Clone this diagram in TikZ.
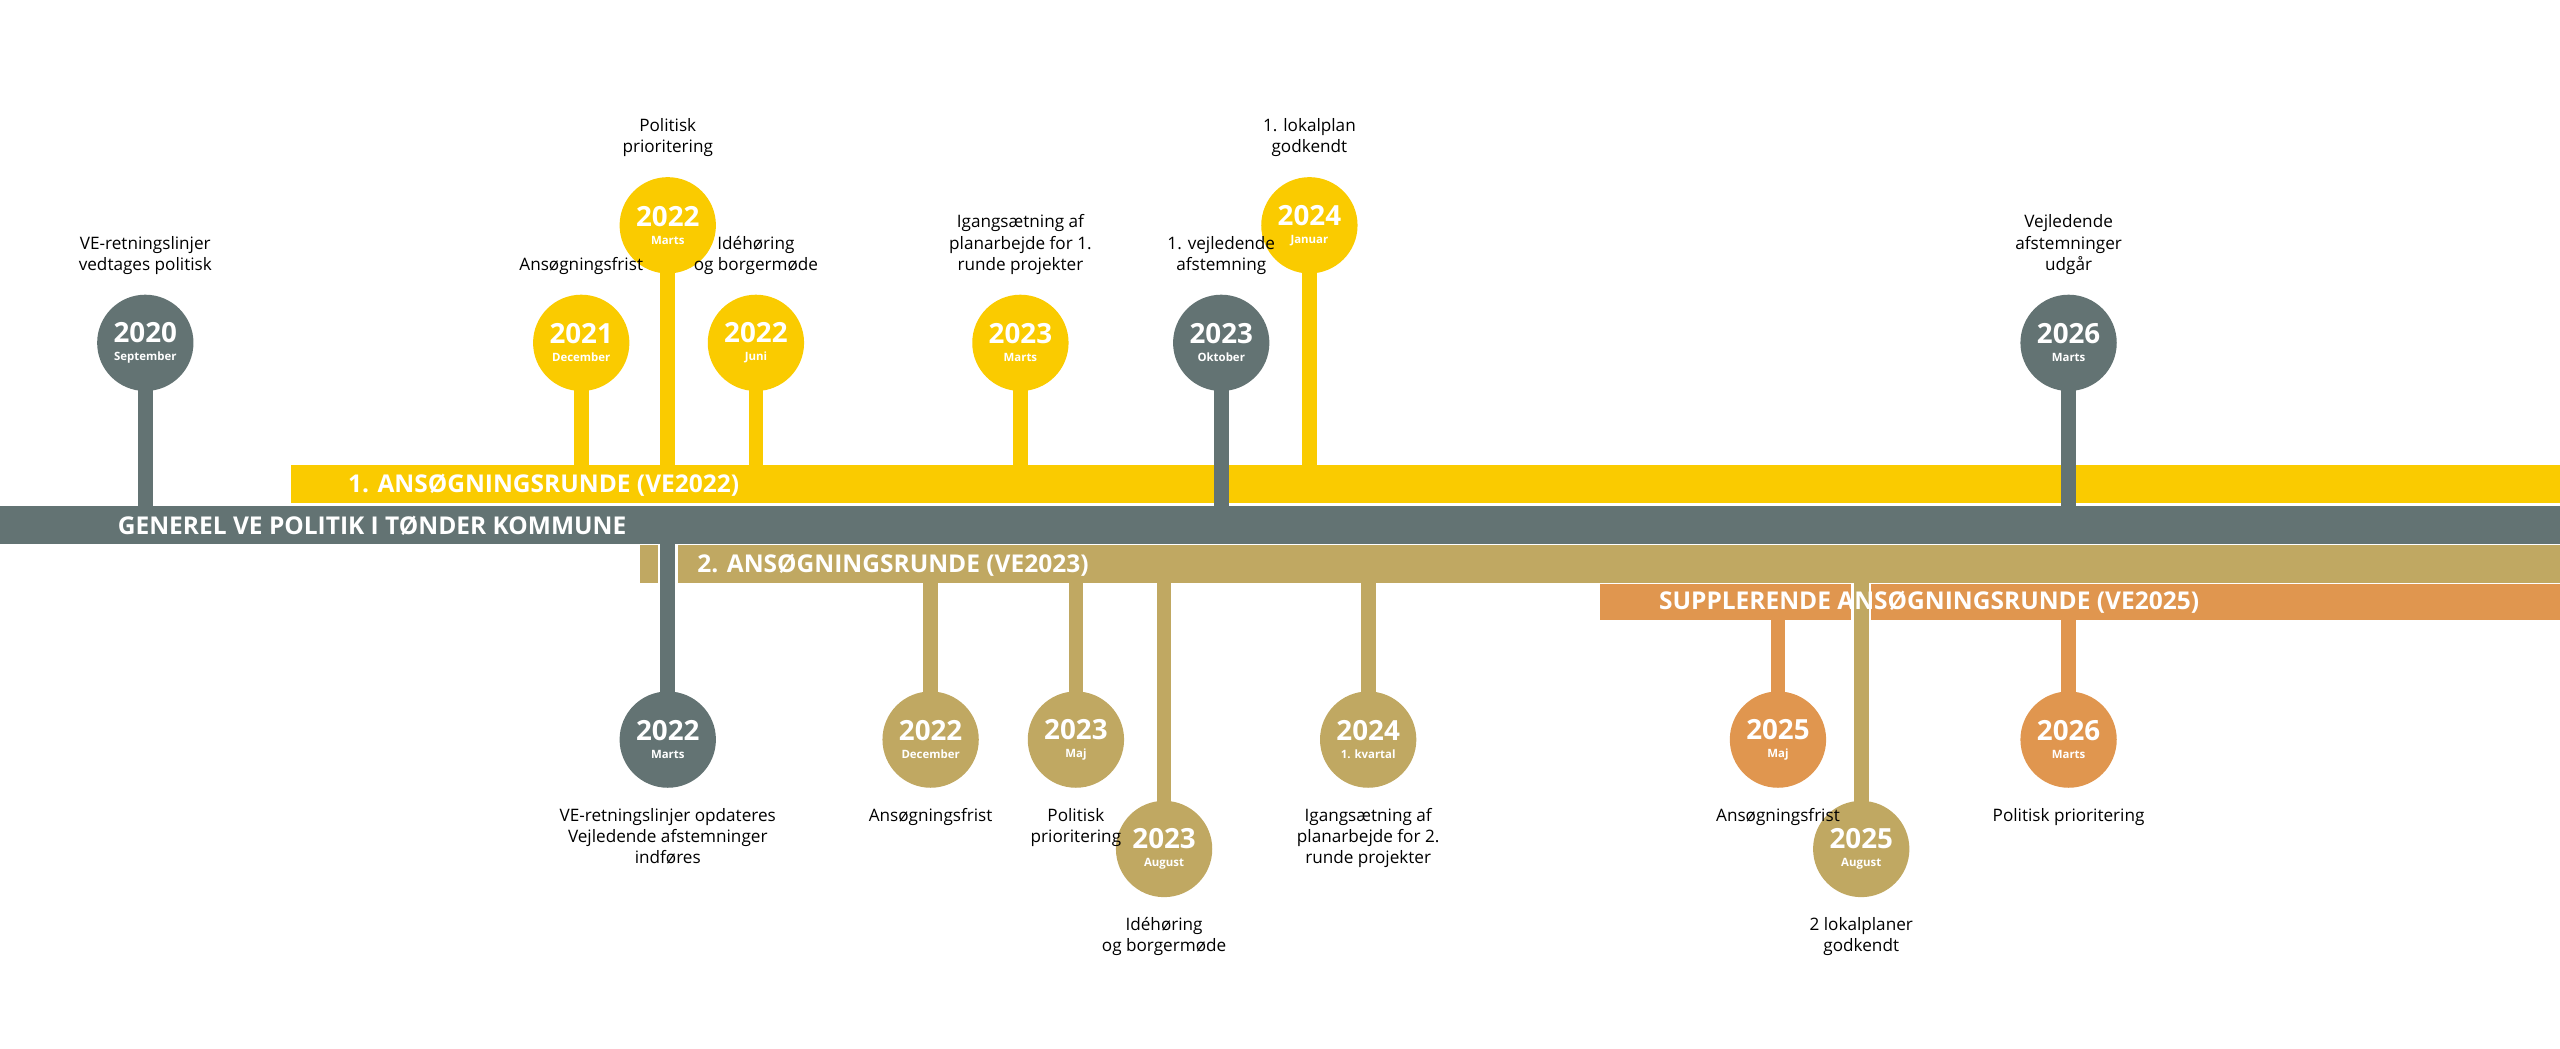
\documentclass[tikz,border=0pt]{standalone}
\usepackage{fontspec}
\setmainfont{Open Sans}
\usetikzlibrary{positioning}
\definecolor{gul}{HTML}{FACB00}
\definecolor{graa}{HTML}{637373}
\definecolor{sand}{HTML}{C0A862}
\definecolor{orange}{HTML}{E0964F}
\tikzset{
  bar/.style={fill=#1, draw=none},
  barlabel/.style={anchor=west, text=white, font=\bfseries\fontsize{15}{15}\selectfont, inner sep=0pt},
  dot/.style={circle, fill=#1, minimum size=59pt, inner sep=0pt, text=white, align=center},
  stem/.style={line width=9pt, draw=#1},
  gap/.style={line width=12pt, draw=white},
  txt/.style={align=center, font=\fontsize{10.5}{13}\selectfont, inner sep=0pt},
}
\newcommand{\yr}[2]{{\bfseries\fontsize{17}{17}\selectfont #1}\\[-1pt]{\bfseries\fontsize{7}{7}\selectfont #2}}
\begin{document}
\begin{tikzpicture}[x=1pt,y=-1pt]
\useasboundingbox (0,0) rectangle (1568,642);

% bars
\fill[bar=gul]  (178,285) rectangle (1568,308);
\fill[bar=graa] (0,310) rectangle (1568,333);
\fill[bar=sand] (392,334) rectangle (1568,357);
\fill[bar=orange] (980,358) rectangle (1568,380);
\coordinate (gultop) at (0,285);
\coordinate (graatop) at (0,310);
\coordinate (graabund) at (0,333);
\coordinate (sandbund) at (0,357);
\coordinate (orangebund) at (0,380);

% stems
\foreach \n/\x/\y/\c/\e in {a/89/210/graa/graatop, b/356/210/gul/gultop, c/409/138/gul/gultop,
  d/463/210/gul/gultop, e/625/210/gul/gultop, f/802/138/gul/gultop}
  \draw[stem=\c] (\x,\y) -- (\x,0 |- \e);
\foreach \n/\x/\y/\c/\e in {g/748/210/graa/graatop, h/1267/210/graa/graatop}{
  \draw[gap] (\x,\y) -- (\x,0 |- gultop);
  \draw[stem=\c] (\x,\y) -- (\x,0 |- \e);}
\draw[gap] (409,453) -- (409,0 |- graabund);
\draw[stem=graa] (409,453) -- (409,0 |- graabund);
\foreach \x/\y in {570/453, 659/453, 713/520, 838/453}
  \draw[stem=sand] (\x,\y) -- (\x,0 |- sandbund);
\draw[gap] (1140,520) -- (1140,0 |- sandbund);
\draw[stem=sand] (1140,520) -- (1140,0 |- sandbund);
\foreach \x in {1089,1267}
  \draw[stem=orange] (\x,453) -- (\x,0 |- orangebund);

% bar labels
\node[barlabel] (runde1) at (213,297) {1. ANSØGNINGSRUNDE (VE2022)};
\node[barlabel] (generel) at (72,322) {GENEREL VE POLITIK I TØNDER KOMMUNE};
\node[barlabel] (runde2) at (427,346) {2. ANSØGNINGSRUNDE (VE2023)};
\node[barlabel] (supp) at (1016,369) {SUPPLERENDE ANSØGNINGSRUNDE (VE2025)};

% top events
\node[dot=graa] (a) at (89,210) {\yr{2020}{September}};
\node[dot=gul] (b) at (356,210) {\yr{2021}{December}};
\node[dot=gul] (c) at (409,138) {\yr{2022}{Marts}};
\node[dot=gul] (d) at (463,210) {\yr{2022}{Juni}};
\node[dot=gul] (e) at (625,210) {\yr{2023}{Marts}};
\node[dot=graa] (g) at (748,210) {\yr{2023}{Oktober}};
\node[dot=gul] (f) at (802,138) {\yr{2024}{Januar}};
\node[dot=graa] (h) at (1267,210) {\yr{2026}{Marts}};

\node[txt, above=12pt of a] {VE-retningslinjer\\vedtages politisk};
\node[txt, above=12pt of b] {Ansøgningsfrist};
\node[txt, above=12pt of c] {Politisk\\prioritering};
\node[txt, above=12pt of d] {Idéhøring\\og borgermøde};
\node[txt, above=12pt of e] {Igangsætning af\\planarbejde for 1.\\runde projekter};
\node[txt, above=12pt of g] {1. vejledende\\afstemning};
\node[txt, above=12pt of f] {1. lokalplan\\godkendt};
\node[txt, above=12pt of h] {Vejledende\\afstemninger\\udgår};

% bottom events
\node[dot=graa] (i) at (409,453) {\yr{2022}{Marts}};
\node[dot=sand] (j) at (570,453) {\yr{2022}{December}};
\node[dot=sand] (k) at (659,453) {\yr{2023}{Maj}};
\node[dot=sand] (l) at (713,520) {\yr{2023}{August}};
\node[dot=sand] (m) at (838,453) {\yr{2024}{1. kvartal}};
\node[dot=orange] (n) at (1089,453) {\yr{2025}{Maj}};
\node[dot=sand] (o) at (1140,520) {\yr{2025}{August}};
\node[dot=orange] (p) at (1267,453) {\yr{2026}{Marts}};

\node[txt, below=12pt of i] {VE-retningslinjer opdateres\\Vejledende afstemninger\\indføres};
\node[txt, below=12pt of j] {Ansøgningsfrist};
\node[txt, below=12pt of k] {Politisk\\prioritering};
\node[txt, below=12pt of l] {Idéhøring\\og borgermøde};
\node[txt, below=12pt of m] {Igangsætning af\\planarbejde for 2.\\runde projekter};
\node[txt, below=12pt of n] {Ansøgningsfrist};
\node[txt, below=12pt of o] {2 lokalplaner\\godkendt};
\node[txt, below=12pt of p] {Politisk prioritering};
\end{tikzpicture}
\end{document}
